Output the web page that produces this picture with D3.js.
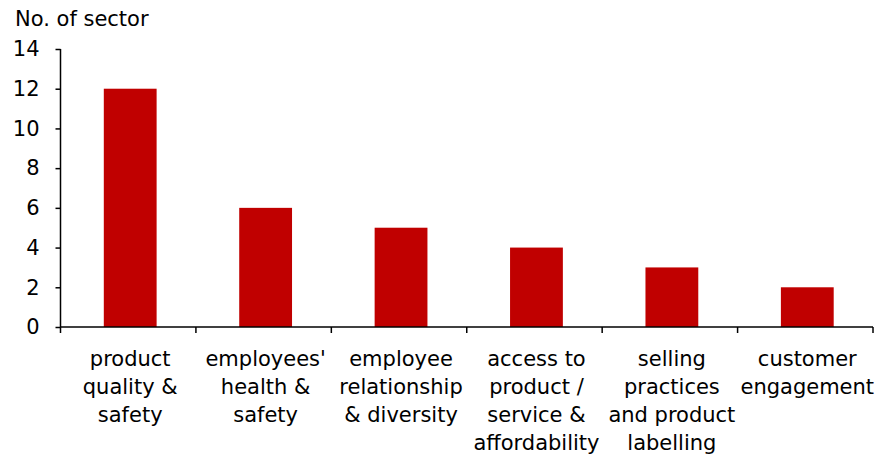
<!DOCTYPE html>
<html>
<head>
<meta charset="utf-8">
<script src="https://cdn.jsdelivr.net/npm/d3@7"></script>
<style>
  html, body { margin: 0; padding: 0; background: #fff; }
  svg { display: block; font-family: "DejaVu Sans", sans-serif; }
</style>
</head>
<body>
<script>
const categories = [
  ["product", "quality &", "safety"],
  ["employees'", "health &", "safety"],
  ["employee", "relationship", "& diversity"],
  ["access to", "product /", "service &", "affordability"],
  ["selling", "practices", "and product", "labelling"],
  ["customer", "engagement"]
];
const values = [12, 6, 5, 4, 3, 2];
const yTicks = [0, 2, 4, 6, 8, 10, 12, 14];

const width = 879, height = 460;
const mLeft = 60.5, mRight = 873, mTop = 49, mBottom = 327;
const fontSize = 21;

const svg = d3.select("body").append("svg")
  .attr("width", width)
  .attr("height", height);

const x = d3.scaleBand()
  .domain(d3.range(categories.length))
  .range([mLeft, mRight])
  .paddingInner(0.61)
  .paddingOuter(0.305);

const y = d3.scaleLinear().domain([0, 14]).range([mBottom, mTop]);

svg.append("g")
  .selectAll("rect")
  .data(values)
  .enter().append("rect")
  .attr("x", (d, i) => x(i) + 2)
  .attr("y", d => y(d))
  .attr("width", x.bandwidth())
  .attr("height", d => y(0) - y(d))
  .attr("fill", "#c00000");

// y axis
const yAxis = svg.append("g")
  .attr("transform", `translate(${mLeft},0)`)
  .call(d3.axisLeft(y).tickValues(yTicks).tickSize(5).tickPadding(16));
yAxis.select(".domain").attr("d", `M0,${mTop}V${mBottom}`).attr("stroke", "#000").attr("stroke-width", 1.5);
yAxis.selectAll(".tick line").attr("stroke", "#000").attr("stroke-width", 1.5);
yAxis.selectAll(".tick text")
  .attr("font-size", fontSize)
  .attr("font-family", "DejaVu Sans, sans-serif")
  .attr("fill", "#000");

// x axis
const step = (mRight - mLeft) / categories.length;
const xEdges = d3.range(categories.length + 1).map(i => mLeft + i * step);
const xAxis = svg.append("g");
xAxis.append("line")
  .attr("x1", mLeft).attr("x2", mRight)
  .attr("y1", mBottom).attr("y2", mBottom)
  .attr("stroke", "#000").attr("stroke-width", 1.5);
xAxis.selectAll("line.tk")
  .data(xEdges)
  .enter().append("line")
  .attr("class", "tk")
  .attr("x1", d => d).attr("x2", d => d)
  .attr("y1", mBottom).attr("y2", mBottom + 6)
  .attr("stroke", "#000").attr("stroke-width", 1.5);

const labels = svg.append("g")
  .attr("font-size", fontSize)
  .attr("fill", "#000")
  .attr("text-anchor", "middle");
categories.forEach((lines, i) => {
  const cx = mLeft + (i + 0.5) * step + 2;
  const t = labels.append("text").attr("x", cx).attr("y", 366);
  lines.forEach((ln, j) => {
    t.append("tspan").attr("x", cx).attr("dy", j === 0 ? 0 : 28).text(ln);
  });
});

svg.append("text")
  .attr("x", 15)
  .attr("y", 26)
  .attr("font-size", fontSize)
  .attr("fill", "#000")
  .text("No. of sector");
</script>
</body>
</html>
